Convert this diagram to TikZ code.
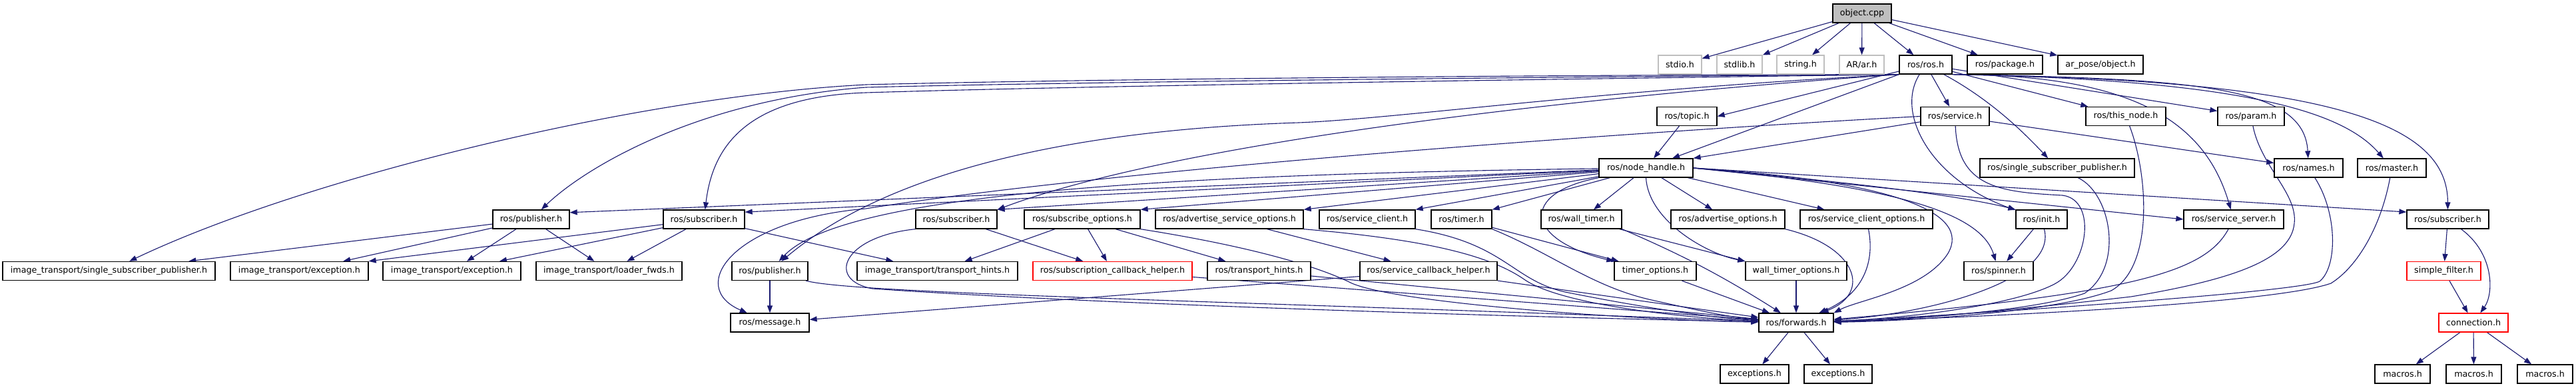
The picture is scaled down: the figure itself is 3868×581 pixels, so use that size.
\documentclass[tikz,border=0pt]{standalone}
\usepackage{fontspec}
\setmainfont{DejaVu Sans}
\usetikzlibrary{arrows.meta}
\definecolor{edgeblue}{HTML}{191970}
\definecolor{boxgray}{HTML}{BFBFBF}
\pgfdeclarelayer{edges}
\pgfsetlayers{edges,main}
\begin{document}
\begin{tikzpicture}[x=1pt,y=-1pt,
  box/.style={draw=black, line width=1.3pt, fill=white, minimum height=28pt, inner sep=0pt, font=\fontsize{12.7}{15}\selectfont, text=black},
  sysbox/.style={box, draw=boxgray},
  redbox/.style={box, draw=red},
  rootbox/.style={box, fill=boxgray},
  e/.style={draw=edgeblue, line width=1.1pt, -{Triangle[length=11pt,width=8pt]}}]
\useasboundingbox (0,0) rectangle (3868,581);
% row 0
\node[rootbox, minimum width=88pt] (obj) at (2796,20) {object.cpp};
% row 1
\node[sysbox, minimum width=65pt] (stdio) at (2522.5,97) {stdio.h};
\node[sysbox, minimum width=68pt] (stdlib) at (2612,97) {stdlib.h};
\node[sysbox, minimum width=71pt] (string) at (2703.5,97) {string.h};
\node[sysbox, minimum width=67pt] (arar) at (2795.5,97) {AR/ar.h};
\node[box, minimum width=79pt] (rosros) at (2891.5,97) {ros/ros.h};
\node[box, minimum width=113pt] (package) at (3010.5,97) {ros/package.h};
\node[box, minimum width=128pt] (arobj) at (3154,97) {ar\_pose/object.h};
% row 2
\node[box, minimum width=90pt] (topic) at (2533,174.5) {ros/topic.h};
\node[box, minimum width=103pt] (service) at (2935.5,174.5) {ros/service.h};
\node[box, minimum width=120pt] (thisnode) at (3192,174.5) {ros/this\_node.h};
\node[box, minimum width=100pt] (param) at (3380,174.5) {ros/param.h};
% row 3
\node[box, minimum width=141pt] (nh) at (2471.5,252) {ros/node\_handle.h};
\node[box, minimum width=232pt] (ssp) at (3089,252) {ros/single\_subscriber\_publisher.h};
\node[box, minimum width=103pt] (names) at (3466.5,252) {ros/names.h};
\node[box, minimum width=103pt] (master) at (3591.5,252) {ros/master.h};
% row 4
\node[box, minimum width=115pt] (pubA) at (797.5,329) {ros/publisher.h};
\node[box, minimum width=122pt] (subB) at (1057,329) {ros/subscriber.h};
\node[box, minimum width=122pt] (subD) at (1436,329) {ros/subscriber.h};
\node[box, minimum width=174pt] (subopt) at (1625,329) {ros/subscribe\_options.h};
\node[box, minimum width=222pt] (aso) at (1846,329) {ros/advertise\_service\_options.h};
\node[box, minimum width=144pt] (sclient) at (2053,329) {ros/service\_client.h};
\node[box, minimum width=91pt] (timer) at (2194.5,329) {ros/timer.h};
\node[box, minimum width=121pt] (wtimer) at (2374.5,329) {ros/wall\_timer.h};
\node[box, minimum width=171pt] (advopt) at (2594.5,329) {ros/advertise\_options.h};
\node[box, minimum width=199pt] (sco) at (2802.5,329) {ros/service\_client\_options.h};
\node[box, minimum width=77pt] (init) at (3065.5,329) {ros/init.h};
\node[box, minimum width=150pt] (sserver) at (3354,329) {ros/service\_server.h};
\node[box, minimum width=123pt] (subE) at (3675.5,329) {ros/subscriber.h};
% row 5
\node[box, minimum width=319pt] (itssp) at (163.5,406.5) {image\_transport/single\_subscriber\_publisher.h};
\node[box, minimum width=207pt] (exc1) at (449.5,406.5) {image\_transport/exception.h};
\node[box, minimum width=207pt] (exc2) at (678.5,406.5) {image\_transport/exception.h};
\node[box, minimum width=219pt] (loader) at (914.5,406.5) {image\_transport/loader\_fwds.h};
\node[box, minimum width=114pt] (pubC) at (1156,406.5) {ros/publisher.h};
\node[box, minimum width=241pt] (ith) at (1407.5,406.5) {image\_transport/transport\_hints.h};
\node[redbox, minimum width=239pt] (sch) at (1670.5,406.5) {ros/subscription\_callback\_helper.h};
\node[box, minimum width=155pt] (rth) at (1890.5,406.5) {ros/transport\_hints.h};
\node[box, minimum width=206pt] (svch) at (2145,406.5) {ros/service\_callback\_helper.h};
\node[box, minimum width=123pt] (topt) at (2485.5,406.5) {timer\_options.h};
\node[box, minimum width=152pt] (wtopt) at (2697,406.5) {wall\_timer\_options.h};
\node[box, minimum width=104pt] (spinner) at (3001,406.5) {ros/spinner.h};
\node[redbox, minimum width=111pt] (sfilter) at (3669.5,406.5) {simple\_filter.h};
% row 6
\node[box, minimum width=118pt] (message) at (1156,484) {ros/message.h};
\node[box, minimum width=112pt] (fwd) at (2697,484) {ros/forwards.h};
\node[redbox, minimum width=104pt] (conn) at (3714,484) {connection.h};
% row 7
\node[box, minimum width=103pt] (exs1) at (2634.5,561) {exceptions.h};
\node[box, minimum width=102pt] (exs2) at (2760,561) {exceptions.h};
\node[box, minimum width=83pt] (mac1) at (3607.5,561) {macros.h};
\node[box, minimum width=83pt] (mac2) at (3714.5,561) {macros.h};
\node[box, minimum width=83pt] (mac3) at (3821.5,561) {macros.h};

\begin{pgfonlayer}{edges}
% object.cpp
\draw[e] (obj) -- (stdio);
\draw[e] (obj) -- (stdlib);
\draw[e] (obj) -- (string);
\draw[e] (obj) -- (arar);
\draw[e] (obj) -- (rosros);
\draw[e] (obj) -- (package);
\draw[e] (obj) -- (arobj);
% ros/ros.h
\draw[e] (rosros) -- (topic.east);
\draw[e] (rosros.south west) -- (nh);
\draw[e] (rosros) -- (service);
\draw[e] (rosros) -- (thisnode);
\draw[e] (rosros) -- (param);
\draw[e] (rosros) .. controls (2990,150) and (3040,200) .. (ssp);
\draw[e] (rosros.south east) .. controls (3300,118) and (3460,130) .. (names);
\draw[e] (rosros.south east) .. controls (3380,120) and (3520,170) .. (master);
\draw[e] (rosros.south east) .. controls (3520,120) and (3675,190) .. (subE);
\draw[e] (rosros.south east) .. controls (3200,112) and (3310,180) .. (sserver);
\draw[e] (rosros) .. controls (2845,170) and (2900,270) .. (init);
\draw[e] (rosros.south west) .. controls (2400,112) and (1650,118) .. (1300,127) .. controls (950,145) and (450,270) .. (itssp);
\draw[e] (rosros.south west) .. controls (2400,115) and (1650,122) .. (1300,131) .. controls (1050,150) and (880,250) .. (pubA);
\draw[e] (rosros.south west) .. controls (2400,118) and (1650,128) .. (1300,139) .. controls (1120,145) and (1070,220) .. (subB);
\draw[e] (rosros.south west) .. controls (2400,135) and (2100,178) .. (1950,184) .. controls (1600,195) and (1330,260) .. (pubC);
\draw[e] (rosros.south west) .. controls (2300,150) and (1750,220) .. (subD.north east);
% ros/node_handle.h
\draw[e] (nh) -- (pubA.10);
\draw[e] (nh) -- (subB.10);
\draw[e] (nh) .. controls (1700,262) and (1260,295) .. (pubC);
\draw[e] (nh) -- (subD.north east);
\draw[e] (nh) -- (subopt.north east);
\draw[e] (nh) -- (aso.north east);
\draw[e] (nh) -- (sclient.north east);
\draw[e] (nh) -- (timer.north east);
\draw[e] (nh) -- (wtimer);
\draw[e] (nh) -- (advopt);
\draw[e] (nh) -- (sco);
\draw[e] (nh.east) .. controls (2800,275) and (2950,295) .. (init.north west);
\draw[e] (nh.east) .. controls (2850,280) and (2975,320) .. (spinner);
\draw[e] (nh.east) -- (sserver.west);
\draw[e] (nh.east) -- (subE.170);
\draw[e] (nh.east) .. controls (2850,272) and (2960,320) .. (2925,380) .. controls (2890,435) and (2790,450) .. (fwd.north east);
\draw[e] (nh.south west) .. controls (2280,290) and (2290,360) .. (topt.north west);
\draw[e] (nh.south) .. controls (2475,330) and (2560,380) .. (wtopt.north west);
% row 2 sources
\draw[e] (topic) -- (nh);
\draw[e] (service) -- (nh.north east);
\draw[e] (service) -- (names);
\draw[e] (service.west) .. controls (2500,195) and (1700,250) .. (1300,313) .. controls (1100,330) and (1030,430) .. (message);
\draw[e] (service) .. controls (2940,280) and (3000,288) .. (3097,293) .. controls (3150,300) and (3135,400) .. (3085,426) .. controls (3020,460) and (2850,478) .. (fwd);
\draw[e] (thisnode) .. controls (3225,260) and (3235,400) .. (3170,436) .. controls (3080,470) and (2850,482) .. (fwd);
\draw[e] (param) .. controls (3395,250) and (3450,290) .. (3445,335) .. controls (3440,390) and (3350,420) .. (3200,445) .. controls (3000,468) and (2850,480) .. (fwd);
% row 3 sources
\draw[e] (ssp) .. controls (3170,290) and (3190,400) .. (3130,440) .. controls (3050,468) and (2850,480) .. (fwd);
\draw[e] (names) .. controls (3510,320) and (3510,400) .. (3483,422) .. controls (3450,440) and (2850,478) .. (fwd);
\draw[e] (master) .. controls (3575,340) and (3540,400) .. (3500,425) .. controls (3400,460) and (2850,480) .. (fwd);
% row 4 sources
\draw[e] (pubA) -- (itssp);
\draw[e] (pubA) -- (exc1);
\draw[e] (pubA) -- (exc2);
\draw[e] (pubA) -- (loader);
\draw[e] (subB) -- (exc1.north east);
\draw[e] (subB) -- (exc2);
\draw[e] (subB) -- (loader);
\draw[e] (subB) -- (ith);
\draw[e] (subD) -- (sch);
\draw[e] (subD.south west) .. controls (1265,355) and (1240,420) .. (1310,433) .. controls (1700,460) and (2400,478) .. (fwd);
\draw[e] (subopt) -- (ith);
\draw[e] (subopt) -- (sch);
\draw[e] (subopt) -- (rth);
\draw[e] (subopt.south east) .. controls (1880,370) and (1980,400) .. (2030,425) .. controls (2100,455) and (2450,480) .. (fwd);
\draw[e] (aso) -- (svch);
\draw[e] (aso.south east) .. controls (2150,360) and (2240,385) .. (2290,420) .. controls (2350,460) and (2550,478) .. (fwd);
\draw[e] (sclient.south east) .. controls (2260,365) and (2270,420) .. (2350,438) .. controls (2450,458) and (2560,476) .. (fwd);
\draw[e] (timer) -- (topt);
\draw[e] (timer.south east) .. controls (2330,380) and (2390,430) .. (2480,450) .. controls (2560,468) and (2600,476) .. (fwd);
\draw[e] (wtimer) -- (wtopt.north west);
\draw[e] (wtimer.south east) .. controls (2520,380) and (2580,410) .. (fwd);
\draw[e] (advopt.south east) .. controls (2790,370) and (2810,440) .. (fwd);
\draw[e] (sco) .. controls (2815,390) and (2800,440) .. (fwd);
\draw[e] (init) -- (spinner);
\draw[e] (init) .. controls (3090,420) and (2900,470) .. (fwd);
\draw[e] (sserver) .. controls (3310,410) and (3200,440) .. (fwd);
\draw[e] (subE) -- (sfilter);
\draw[e] (subE) .. controls (3745,380) and (3745,440) .. (conn);
% row 5 sources
\draw[e] (pubC) -- (message);
\draw[e] (pubC) .. controls (1280,440) and (1800,450) .. (fwd);
\draw[e] (sch) -- (fwd);
\draw[e] (rth) -- (fwd);
\draw[e] (svch) -- (message);
\draw[e] (svch) -- (fwd);
\draw[e] (topt) -- (fwd);
\draw[e] (wtopt) -- (fwd);
\draw[e] (sfilter) -- (conn);
% row 6 sources
\draw[e] (fwd) -- (exs1);
\draw[e] (fwd) -- (exs2);
\draw[e] (conn) -- (mac1);
\draw[e] (conn) -- (mac2);
\draw[e] (conn) -- (mac3);
\end{pgfonlayer}
\end{tikzpicture}
\end{document}
